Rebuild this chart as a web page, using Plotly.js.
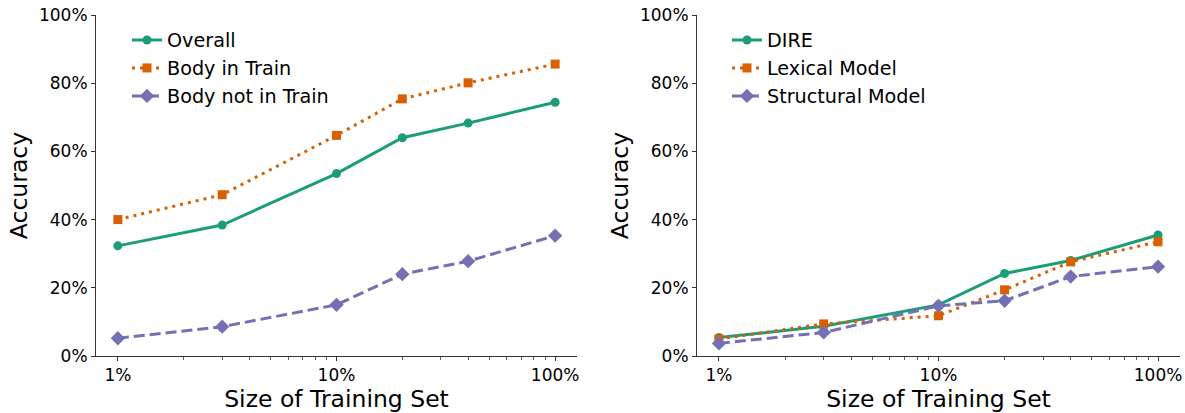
<!DOCTYPE html>
<html>
<head>
<meta charset="utf-8">
<script src="https://cdn.plot.ly/plotly-3.0.1.min.js"></script>
<style>html,body{margin:0;padding:0;background:#fff}#chart{width:1185px;height:413px}</style>
</head>
<body>
<div id="chart"></div>
<script>
// Training set sizes (percent)
const trainSize = [1, 3, 10, 20, 40, 100];

// Left panel
const overall = [32.3, 38.4, 53.5, 64.0, 68.3, 74.4];
const bodyInTrain = [40.0, 47.3, 64.7, 75.4, 80.1, 85.6];
const bodyNotInTrain = [5.2, 8.6, 15.0, 24.0, 27.8, 35.3];

// Right panel
const dire = [5.4, 8.7, 15.0, 24.2, 28.0, 35.5];
const lexicalModel = [5.0, 9.4, 11.8, 19.4, 27.6, 33.5];
const structuralModel = [3.7, 6.9, 14.7, 16.2, 23.3, 26.2];

const xTickVals = [1, 10, 100];
const xTickText = ['1%', '10%', '100%'];
const xMinorVals = [2, 3, 4, 5, 6, 7, 8, 9, 20, 30, 40, 50, 60, 70, 80, 90];
const yTickVals = [0, 20, 40, 60, 80, 100];
const yTickText = ['0%', '20%', '40%', '60%', '80%', '100%'];

const GREEN = '#1b9e77', ORANGE = '#d95f02', PURPLE = '#7570b3';
const FONT = 'DejaVu Sans';

function tr(name, y, color, dash, symbol, msize, xa, ya, leg, grp) {
  return {
    x: trainSize, y: y, name: name, type: 'scatter', mode: 'lines+markers',
    line: {color: color, width: 3, dash: dash},
    marker: {color: color, symbol: symbol, size: msize},
    xaxis: xa, yaxis: ya, legend: leg, legendgroup: grp
  };
}

const data = [
  tr('Overall', overall, GREEN, 'solid', 'circle', 9, 'x', 'y', 'legend', 'a'),
  tr('Body in Train', bodyInTrain, ORANGE, '3px,5px', 'square', 9, 'x', 'y', 'legend', 'b'),
  tr('Body not in Train', bodyNotInTrain, PURPLE, '11px,5px', 'diamond', 11, 'x', 'y', 'legend', 'c'),
  tr('DIRE', dire, GREEN, 'solid', 'circle', 9, 'x2', 'y2', 'legend2', 'd'),
  tr('Lexical Model', lexicalModel, ORANGE, '3px,5px', 'square', 9, 'x2', 'y2', 'legend2', 'e'),
  tr('Structural Model', structuralModel, PURPLE, '11px,5px', 'diamond', 11, 'x2', 'y2', 'legend2', 'f')
];

function xaxis(domain, anchor) {
  return {
    domain: domain, anchor: anchor, type: 'log', range: [-0.1, 2.1],
    tickmode: 'array', tickvals: xTickVals, ticktext: xTickText,
    ticks: 'outside', ticklen: 4, tickwidth: 1, tickcolor: '#333',
    showline: true, linecolor: '#333', linewidth: 1, showgrid: false, zeroline: false,
    minor: {tickmode: 'array', tickvals: xMinorVals, ticks: 'outside', ticklen: 2.5, tickwidth: 0.8, tickcolor: '#333', showgrid: false},
    tickfont: {family: FONT, size: 17, color: '#000'},
    title: {text: 'Size of Training Set', font: {family: FONT, size: 23.5, color: '#000'}, standoff: 6}
  };
}
function yaxis(domain, anchor) {
  return {
    domain: domain, anchor: anchor, range: [0, 100],
    tickmode: 'array', tickvals: yTickVals, ticktext: yTickText,
    ticks: 'outside', ticklen: 4, tickwidth: 1, tickcolor: '#333',
    showline: true, linecolor: '#333', linewidth: 1, showgrid: false, zeroline: false,
    tickfont: {family: FONT, size: 17, color: '#000'},
    title: {text: 'Accuracy', font: {family: FONT, size: 23.5, color: '#000'}, standoff: 4}
  };
}

const legBase = {
  xanchor: 'left', yanchor: 'top', bgcolor: 'rgba(0,0,0,0)',
  font: {family: FONT, size: 19.2, color: '#000'},
  tracegroupgap: 0, traceorder: 'grouped'
};

const layout = {
  width: 1185, height: 413,
  margin: {l: 0, r: 0, t: 0, b: 0},
  paper_bgcolor: '#fff', plot_bgcolor: '#fff',
  showlegend: true,
  xaxis: xaxis([96/1185, 577/1185], 'y'),
  yaxis: yaxis([57/413, 398/413], 'x'),
  xaxis2: xaxis([697/1185, 1180/1185], 'y2'),
  yaxis2: yaxis([57/413, 398/413], 'x2'),
  legend: Object.assign({}, legBase, {x: 127/1185, y: 1 - 21/413}),
  legend2: Object.assign({}, legBase, {x: 727/1185, y: 1 - 21/413})
};

Plotly.newPlot('chart', data, layout, {displayModeBar: false, staticPlot: true});
</script>
</body>
</html>
